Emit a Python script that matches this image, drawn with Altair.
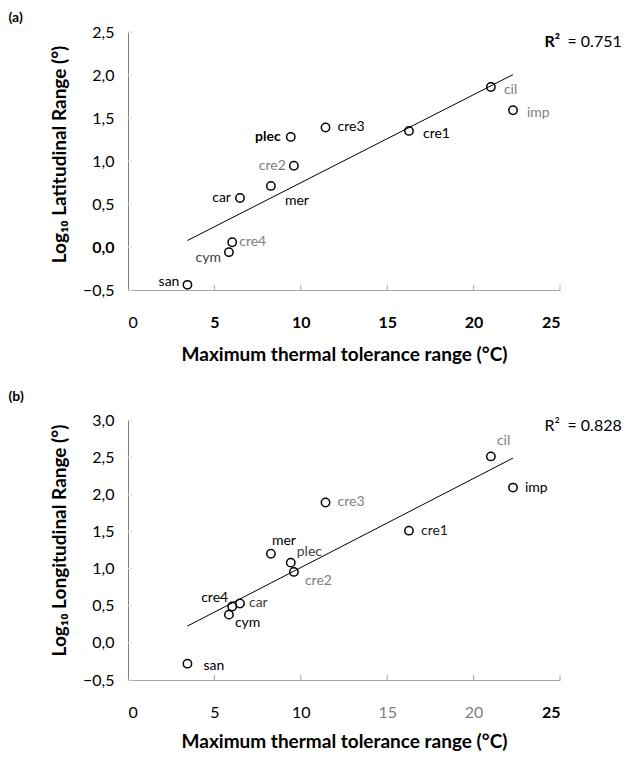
import altair as alt
import pandas as pd

species = ["san", "cym", "cre4", "car", "mer", "plec", "cre2", "cre3", "cre1", "cil", "imp"]
thermal = [3.44, 5.84, 6.03, 6.48, 8.27, 9.42, 9.60, 11.43, 16.26, 21.00, 22.28]
lat_range = [-0.44, -0.06, 0.055, 0.57, 0.71, 1.28, 0.945, 1.39, 1.35, 1.86, 1.59]
lon_range = [-0.28, 0.38, 0.49, 0.53, 1.20, 1.08, 0.955, 1.89, 1.51, 2.51, 2.09]

x_ticks = [5, 10, 15, 20, 25]
y_ticks_a = [-0.5, 0.0, 0.5, 1.0, 1.5, 2.0, 2.5]
y_ticks_b = [-0.5, 0.0, 0.5, 1.0, 1.5, 2.0, 2.5, 3.0]

r2_a = "0.751"
r2_b = "0.828"

FONT = "Lato"

# label styles: align, dx, dy, colour, weight
style_a = {
    "san": ("right", -8, -3, "#000000", "normal"),
    "cym": ("right", -8, 6, "#404040", "normal"),
    "cre4": ("left", 7, 0, "#808080", "normal"),
    "car": ("right", -9, 0, "#000000", "normal"),
    "mer": ("left", 14, 15, "#000000", "normal"),
    "plec": ("right", -10, 0, "#000000", "bold"),
    "cre2": ("right", -8, 0, "#808080", "normal"),
    "cre3": ("left", 12, 0, "#000000", "normal"),
    "cre1": ("left", 14, 3, "#000000", "normal"),
    "cil": ("left", 13, 3, "#808080", "normal"),
    "imp": ("left", 14, 3, "#808080", "normal"),
}
style_b = {
    "san": ("left", 16, 2, "#000000", "normal"),
    "cym": ("left", 6, 8, "#000000", "normal"),
    "cre4": ("right", -4, -8, "#000000", "normal"),
    "car": ("left", 9, 0, "#404040", "normal"),
    "mer": ("left", 1, -13, "#000000", "normal"),
    "plec": ("left", 6, -11, "#404040", "normal"),
    "cre2": ("left", 11, 9, "#808080", "normal"),
    "cre3": ("left", 12, 0, "#808080", "normal"),
    "cre1": ("left", 12, 0, "#202020", "normal"),
    "cil": ("left", 6, -15, "#808080", "normal"),
    "imp": ("left", 12, 0, "#000000", "normal"),
}

Y_FMT = "replace(format(datum.value, '.1f'), '.', ',')"


def panel(yvals, ydomain, yticks, ytitle, tag, r2, r2_y, H, xweight, xcolor, yweight,
          r_bold, t_offset, x_tpad, y_title_shift):
    df = pd.DataFrame({"sp": species, "x": thermal, "y": yvals})
    xs = alt.X(
        "x:Q",
        scale=alt.Scale(domain=[0, 25], nice=False, zero=False),
        axis=alt.Axis(
            title="Maximum thermal tolerance range (°C)",
            values=[0, 5, 10, 15, 20, 25],
            format="d",
            grid=False,
            ticks=False,
            domainColor="#a6a6a6",
            labelPadding=24,
            labelFontSize=16,
            labelFontWeight=xweight,
            labelColor=xcolor,
            titleFontSize=19,
            titleFontWeight="bold",
            titlePadding=x_tpad,
        ),
    )
    ys = alt.Y(
        "y:Q",
        scale=alt.Scale(domain=ydomain, nice=False, zero=False),
        axis=alt.Axis(
            title=ytitle,
            values=yticks,
            labelExpr=Y_FMT,
            grid=False,
            ticks=False,
            domainColor="#808080",
            labelPadding=14,
            labelFontSize=16,
            labelFontWeight=yweight,
            titleFontSize=19,
            titleFontWeight="bold",
            titlePadding=13,
            titleY=H / 2 - y_title_shift,
        ),
    )
    base = alt.Chart(df)
    pts = base.mark_point(shape="circle", filled=False, color="black", size=70,
                          strokeWidth=1.5, opacity=1).encode(x=xs, y=ys)
    fit = base.transform_regression("x", "y").mark_line(color="black", strokeWidth=1).encode(x=xs, y=ys)

    xt = alt.Chart(pd.DataFrame({"x": x_ticks})).mark_rule(color="#a6a6a6").encode(
        x=xs, y=alt.value(H), y2=alt.value(H - 5)
    )
    yt = alt.Chart(pd.DataFrame({"y": yticks})).mark_rule(color="#e0e0e0").encode(
        y=ys, x=alt.value(0), x2=alt.value(5)
    )

    style = style_a if tag == "(a)" else style_b
    labels = []
    for s in species:
        al, dx, dy, col, wt = style[s]
        labels.append(
            base.transform_filter(alt.datum.sp == s)
            .mark_text(align=al, baseline="middle", dx=dx, dy=dy, color=col,
                       fontWeight=wt, fontSize=14, font=FONT)
            .encode(x=xs, y=ys, text="sp:N")
        )

    rdf = pd.DataFrame({"x": [24.1], "y": [r2_y]})
    r_lab = alt.Chart(rdf).mark_text(
        align="left", baseline="middle", fontSize=16, font=FONT,
        fontWeight="bold" if r_bold else "normal", color="black"
    ).encode(x=xs, y=ys, text=alt.value("R²"))
    r_val = alt.Chart(rdf).mark_text(
        align="left", baseline="middle", dx=23, fontSize=16, font=FONT, color="black"
    ).encode(x=xs, y=ys, text=alt.value("= " + r2))

    return alt.layer(yt, xt, fit, pts, *labels, r_lab, r_val).properties(
        width=432,
        height=H,
        title=alt.TitleParams(tag, anchor="start", frame="bounds", dx=-42, offset=t_offset,
                              fontSize=14, fontWeight="bold", font=FONT),
    )


top = panel(
    lat_range, [-0.5, 2.5], y_ticks_a, "Log₁₀ Latitudinal Range (°)", "(a)", r2_a, 2.38, 258,
    {"condition": {"test": "datum.value == 0", "value": "normal"}, "value": "bold"},
    "#000000",
    {"condition": {"test": "datum.value == 0", "value": "bold"}, "value": "normal"},
    True, -1, 15, 7,
)
bottom = panel(
    lon_range, [-0.5, 3.0], y_ticks_b, "Log₁₀ Longitudinal Range (°)", "(b)", r2_b, 2.92, 260,
    {"condition": {"test": "datum.value == 25", "value": "bold"}, "value": "normal"},
    {"condition": {"test": "datum.value == 15 || datum.value == 20", "value": "#808080"}, "value": "#000000"},
    "normal",
    False, 8, 12, 10,
)

chart = (
    alt.vconcat(top, bottom, spacing=26)
    .resolve_scale(x="independent", y="independent")
    .properties(padding={"left": 0, "top": 3, "right": 0, "bottom": 0})
    .configure(font=FONT)
    .configure_view(stroke=None)
    .configure_axis(labelFont=FONT, titleFont=FONT)
)

chart.save("out.html", embed_options={"renderer": "svg", "actions": False})
